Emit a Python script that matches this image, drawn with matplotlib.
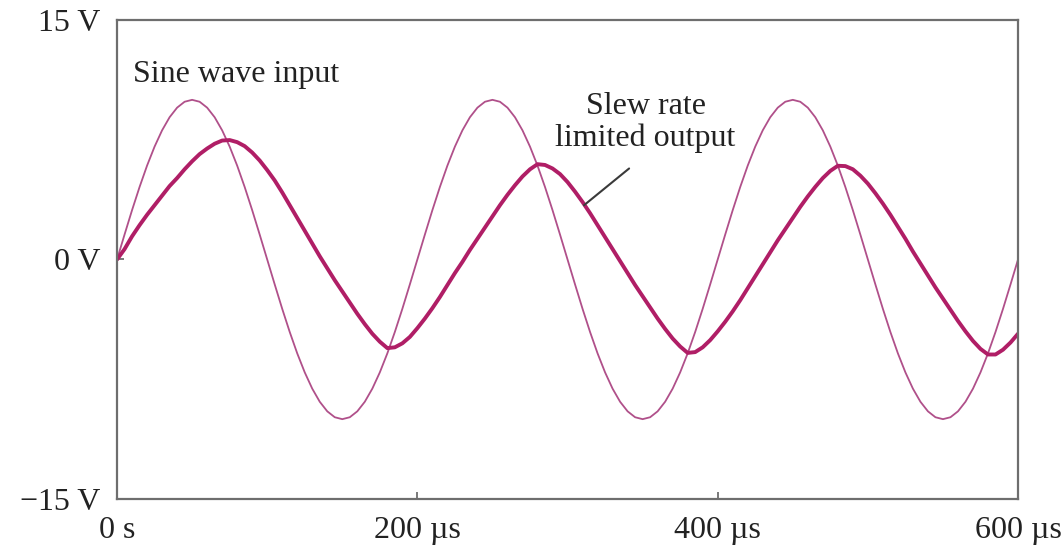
import matplotlib
matplotlib.use("Agg")
import matplotlib.pyplot as plt

# ---------------------
# DATA (read off the reference, sampled every 5 us)
# ---------------------
TIME_US = list(range(0, 601, 5))

SINE_INPUT_V = [
    0.00, 1.56, 3.09, 4.54, 5.88, 7.07, 8.09, 8.91, 9.51, 9.88,
    10.00, 9.88, 9.51, 8.91, 8.09, 7.07, 5.88, 4.54, 3.09, 1.56,
    0.00, -1.56, -3.09, -4.54, -5.88, -7.07, -8.09, -8.91, -9.51, -9.88,
    -10.00, -9.88, -9.51, -8.91, -8.09, -7.07, -5.88, -4.54, -3.09, -1.56,
    0.00, 1.56, 3.09, 4.54, 5.88, 7.07, 8.09, 8.91, 9.51, 9.88,
    10.00, 9.88, 9.51, 8.91, 8.09, 7.07, 5.88, 4.54, 3.09, 1.56,
    0.00, -1.56, -3.09, -4.54, -5.88, -7.07, -8.09, -8.91, -9.51, -9.88,
    -10.00, -9.88, -9.51, -8.91, -8.09, -7.07, -5.88, -4.54, -3.09, -1.56,
    0.00, 1.56, 3.09, 4.54, 5.88, 7.07, 8.09, 8.91, 9.51, 9.88,
    10.00, 9.88, 9.51, 8.91, 8.09, 7.07, 5.88, 4.54, 3.09, 1.56,
    0.00, -1.56, -3.09, -4.54, -5.88, -7.07, -8.09, -8.91, -9.51, -9.88,
    -10.00, -9.88, -9.51, -8.91, -8.09, -7.07, -5.88, -4.54, -3.09, -1.56,
    0.00,
]

SLEW_OUTPUT_V = [
    0.00, 0.65, 1.45, 2.15, 2.80, 3.40, 4.00, 4.60, 5.10, 5.65,
    6.15, 6.60, 6.95, 7.25, 7.45, 7.48, 7.35, 7.10, 6.70, 6.20,
    5.60, 4.95, 4.20, 3.40, 2.60, 1.80, 1.00, 0.20, -0.55, -1.30,
    -2.00, -2.70, -3.40, -4.05, -4.65, -5.15, -5.55, -5.50, -5.25, -4.85,
    -4.30, -3.70, -3.05, -2.35, -1.60, -0.85, -0.15, 0.60, 1.30, 2.00,
    2.70, 3.40, 4.05, 4.65, 5.20, 5.65, 5.97, 5.92, 5.70, 5.35,
    4.85, 4.25, 3.60, 2.90, 2.15, 1.40, 0.65, -0.10, -0.85, -1.60,
    -2.30, -3.00, -3.70, -4.35, -4.95, -5.45, -5.85, -5.80, -5.50, -5.05,
    -4.50, -3.90, -3.25, -2.55, -1.80, -1.05, -0.30, 0.45, 1.20, 1.90,
    2.60, 3.30, 3.95, 4.55, 5.10, 5.55, 5.87, 5.85, 5.65, 5.25,
    4.75, 4.15, 3.50, 2.80, 2.05, 1.30, 0.50, -0.25, -1.00, -1.75,
    -2.45, -3.15, -3.85, -4.50, -5.10, -5.60, -5.95, -5.95, -5.65, -5.20,
    -4.65,
]

Y_TICKS = [-15, 0, 15]
Y_TICK_LABELS = ["\u221215 V", "0 V", "15 V"]
X_TICKS = [0, 200, 400, 600]
X_TICK_LABELS = ["0 s", "200 \u00b5s", "400 \u00b5s", "600 \u00b5s"]

INPUT_LABEL = "Sine wave input"
OUTPUT_LABEL = "Slew rate\nlimited output"

# ---------------------
# STYLE
# ---------------------
FONT = ["Liberation Serif", "DejaVu Serif"]
INPUT_COLOR = "#b0508a"
OUTPUT_COLOR = "#b01e66"
AXIS_COLOR = "#6e6e6e"
TEXT_COLOR = "#222222"


def main():
    plt.rcParams["font.family"] = FONT

    fig = plt.figure(figsize=(10.62, 5.51), dpi=100)
    ax = fig.add_axes([0.1102, 0.0944, 0.8484, 0.8693])

    ax.plot(TIME_US, SINE_INPUT_V, color=INPUT_COLOR, lw=1.3, solid_capstyle="round")
    ax.plot(TIME_US, SLEW_OUTPUT_V, color=OUTPUT_COLOR, lw=2.8, solid_capstyle="round")

    ax.set_xlim(0, 600)
    ax.set_ylim(-15, 15)

    ax.set_xticks(X_TICKS)
    ax.set_xticklabels(X_TICK_LABELS)
    ax.set_yticks(Y_TICKS)
    ax.set_yticklabels(Y_TICK_LABELS)
    ax.tick_params(axis="both", direction="in", length=5, width=1.3,
                   color=AXIS_COLOR, labelsize=23, labelcolor=TEXT_COLOR)
    ax.tick_params(axis="x", pad=12)
    ax.tick_params(axis="y", pad=12)

    for spine in ax.spines.values():
        spine.set_color(AXIS_COLOR)
        spine.set_linewidth(1.6)

    ax.text(10.7, 11.1, INPUT_LABEL, fontsize=23, color=TEXT_COLOR,
            ha="left", va="baseline")
    ax.text(352, 8.6, OUTPUT_LABEL, fontsize=23, color=TEXT_COLOR,
            ha="center", va="center", multialignment="center", linespacing=1.12)
    # leader from the label down to the output curve
    ax.annotate("", xy=(311, 3.4), xytext=(341, 5.7),
                arrowprops=dict(arrowstyle="-", color="#3a3a3a", lw=1.5,
                                shrinkA=0, shrinkB=0))

    fig.savefig("out.png", dpi=100, facecolor="white")
    plt.close(fig)


if __name__ == "__main__":
    main()
